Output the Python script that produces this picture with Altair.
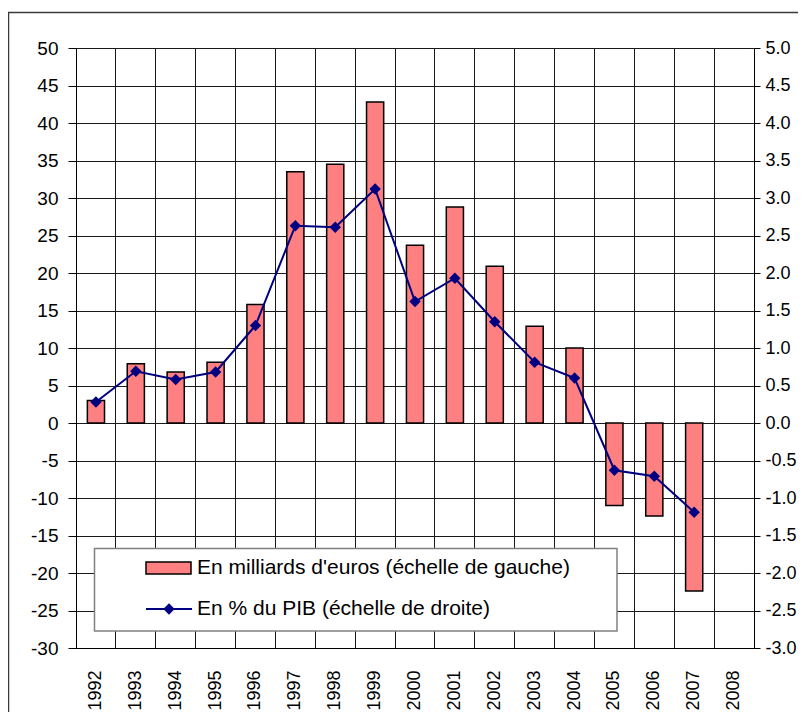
import altair as alt
import pandas as pd

# ---- data ----
years = [str(y) for y in range(1992, 2009)]
data_years = [str(y) for y in range(1992, 2008)]
billions = [3.0, 7.9, 6.8, 8.1, 15.8, 33.5, 34.5, 42.8, 23.7, 28.8, 20.9, 12.9, 10.0, -11.0, -12.4, -22.4]
pct_gdp = [0.28, 0.69, 0.58, 0.68, 1.30, 2.63, 2.61, 3.12, 1.62, 1.93, 1.35, 0.81, 0.60, -0.63, -0.71, -1.19]
left_ticks = list(range(-30, 55, 5))
right_ticks = [v / 2 for v in range(-6, 11)]
legend_labels = ["En milliards d'euros (échelle de gauche)", "En % du PIB (échelle de droite)"]

df = pd.DataFrame({"year": data_years, "bn": billions, "pct": pct_gdp})
one = pd.DataFrame({"k": [0]})

FONT = "Liberation Sans"
BAR = "#FF8080"
NAVY = "#000080"
GRID = "#1a1a1a"

x_enc = alt.X(
    "year:O",
    scale=alt.Scale(domain=years, paddingInner=0, paddingOuter=0),
    axis=alt.Axis(
        title=None, labelAngle=270, labelFontSize=18, labelFont=FONT, labelColor="black",
        labelPadding=22, ticks=False, domainColor="black", domainWidth=1,
        grid=True, gridColor=GRID, gridWidth=1, bandPosition=0,
    ),
)

frame = alt.Chart(one).mark_rect(fillOpacity=0, stroke="#3a3a3a", strokeWidth=1.5).encode(
    x=alt.value(-67.5), x2=alt.value(800), y=alt.value(-35.5), y2=alt.value(800)
)

bars = alt.Chart(df).mark_bar(
    width=alt.RelativeBandSize(0.43), color=BAR, stroke="black", strokeWidth=1.5
).encode(
    x=x_enc,
    y=alt.Y(
        "bn:Q",
        scale=alt.Scale(domain=[-30, 50], nice=False, zero=False),
        axis=alt.Axis(
            title=None, orient="left", values=left_ticks, grid=True, gridColor=GRID, gridWidth=1,
            tickSize=8, tickColor="black", domainColor="black", labelPadding=10,
            labelFontSize=19, labelFont=FONT, labelColor="black",
            labelExpr="datum.value < 0 ? '-' + format(-datum.value, 'd') : format(datum.value, 'd')",
        ),
    ),
)

line = alt.Chart(df).mark_line(
    color=NAVY, strokeWidth=2,
    point=alt.OverlayMarkDef(shape="diamond", size=130, filled=True, color=NAVY),
).encode(
    x=x_enc,
    y=alt.Y(
        "pct:Q",
        scale=alt.Scale(domain=[-3, 5], nice=False, zero=False),
        axis=alt.Axis(
            title=None, orient="right", values=right_ticks, grid=False,
            tickSize=6, tickColor="black", domainColor="black", labelPadding=5,
            labelFontSize=18, labelFont=FONT, labelColor="black",
            labelExpr="datum.value < 0 ? '-' + format(-datum.value, '.1f') : format(datum.value, '.1f')",
        ),
    ),
)

legend_box = alt.Chart(one).mark_rect(fill="white", stroke="#808080", strokeWidth=1.5).encode(
    x=alt.value(18.5), x2=alt.value(541), y=alt.value(500.5), y2=alt.value(583)
)
legend_swatch = alt.Chart(one).mark_rect(fill=BAR, stroke="black", strokeWidth=1.5).encode(
    x=alt.value(70), x2=alt.value(115), y=alt.value(514), y2=alt.value(526)
)
legend_line = alt.Chart(one).mark_rule(color=NAVY, strokeWidth=2).encode(
    x=alt.value(70), x2=alt.value(116), y=alt.value(561)
)
legend_pt = alt.Chart(one).mark_point(shape="diamond", filled=True, size=130, color=NAVY, opacity=1).encode(
    x=alt.value(93), y=alt.value(561)
)
legend_t1 = alt.Chart(one).mark_text(align="left", baseline="middle", fontSize=21, font=FONT, color="black").encode(
    x=alt.value(121), y=alt.value(520), text=alt.value(legend_labels[0])
)
legend_t2 = alt.Chart(one).mark_text(align="left", baseline="middle", fontSize=21, font=FONT, color="black").encode(
    x=alt.value(121), y=alt.value(561), text=alt.value(legend_labels[1])
)

chart = (
    alt.layer(frame, bars, line, legend_box, legend_swatch, legend_line, legend_pt, legend_t1, legend_t2)
    .resolve_scale(y="independent")
    .properties(
        width=678, height=600,
        autosize=alt.AutoSizeParams(type="none"),
        padding={"left": 68, "top": 40, "right": 44, "bottom": 64},
        background="white",
    )
    .configure_view(stroke=None)
)

chart.save("out.html", embed_options={"renderer": "svg", "actions": False})
